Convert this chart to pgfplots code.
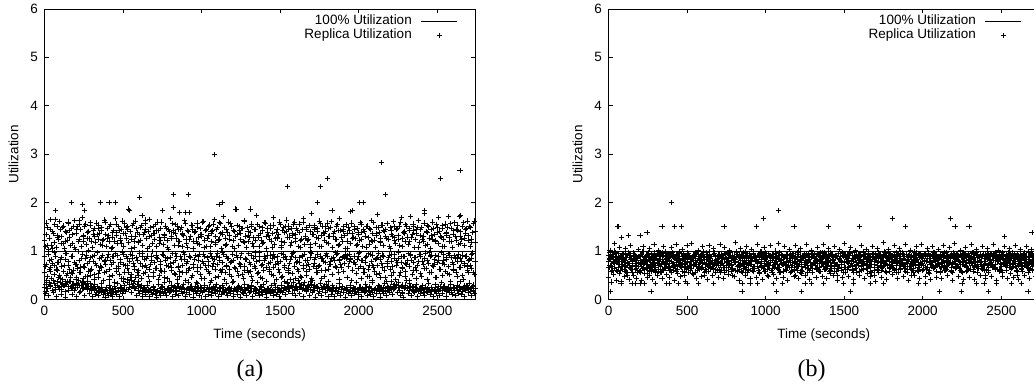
\documentclass[border=0pt]{standalone}
\usepackage{fontspec}
\setmainfont{Liberation Sans}
\newfontfamily\capfont{Liberation Serif}
\usepackage{pgfplots}
\pgfplotsset{compat=1.18}
\usepackage{pgfplotstable}

\pgfplotstableread{
x lo mid hi var
0 0.25 0.55 1.22 0.88
10 0.31 0.72 1.35 0.17
20 0.22 0.48 1.48 1.12
30 0.35 0.81 1.27 0.62
40 0.28 0.66 1.65 0.30
50 0.19 0.74 1.41 1.05
60 0.33 0.52 1.18 0.70
70 0.26 0.90 1.66 0.21
80 0.30 0.61 1.33 1.50
90 0.24 0.77 1.25 0.45
100 0.35 0.44 1.45 0.83
110 0.21 0.69 1.30 0.28
120 0.29 0.58 1.52 1.16
130 0.17 0.83 1.21 0.38
140 0.32 0.49 1.38 0.95
150 0.27 0.71 1.60 0.19
160 0.38 0.62 1.28 1.42
170 0.22 0.88 1.47 0.56
180 0.30 0.54 1.15 0.25
190 0.18 0.76 1.63 1.08
200 0.34 0.41 1.36 0.73
210 0.26 0.65 1.50 0.31
220 0.29 0.80 1.24 1.55
230 0.16 0.57 1.44 0.67
240 0.36 0.93 1.69 0.22
250 0.23 0.68 1.32 1.19
260 0.31 0.47 1.56 0.84
270 0.20 0.74 1.26 0.34
280 0.27 0.59 1.40 1.02
290 0.33 0.86 1.53 0.50
300 0.18 0.63 1.20 0.27
310 0.25 0.78 1.43 1.34
320 0.21 0.52 1.31 0.91
330 0.15 0.70 1.58 0.19
340 0.23 0.45 1.25 1.47
350 0.17 0.84 1.37 0.60
360 0.14 0.66 1.49 0.24
370 0.19 0.91 1.22 1.11
380 0.16 0.55 1.64 0.79
390 0.21 0.73 1.34 0.18
400 0.13 0.86 1.46 1.27
410 0.18 0.62 1.19 0.42
420 0.15 0.80 1.55 0.22
430 0.20 0.49 1.29 1.08
440 0.16 0.76 1.42 0.88
450 0.22 0.95 1.67 0.17
460 0.14 0.58 1.33 1.38
470 0.19 0.69 1.51 0.64
480 0.17 0.83 1.23 0.26
490 0.24 0.44 1.45 1.15
500 0.18 0.72 1.36 0.93
510 0.29 0.57 1.58 0.20
520 0.21 0.88 1.27 1.49
530 0.35 0.64 1.44 0.71
540 0.26 0.79 1.84 0.32
550 0.40 0.51 1.30 1.06
560 0.28 0.92 1.53 0.85
570 0.37 0.68 1.21 0.23
580 0.22 0.45 1.62 1.31
590 0.31 0.81 1.39 0.57
600 0.19 0.60 1.17 0.28
610 0.26 0.75 1.48 1.22
620 0.17 0.89 1.73 0.96
630 0.23 0.53 1.35 0.19
640 0.15 0.70 1.57 1.44
650 0.20 0.84 1.26 0.66
660 0.16 0.47 1.41 0.21
670 0.19 0.63 1.66 1.09
680 0.14 0.90 1.32 0.80
690 0.18 0.56 1.50 0.24
700 0.21 0.77 1.24 1.37
710 0.16 0.65 1.43 0.92
720 0.19 0.85 1.60 0.18
730 0.15 0.50 1.29 1.16
740 0.22 0.72 1.46 0.61
750 0.17 0.94 1.83 0.27
760 0.20 0.59 1.34 1.28
770 0.14 0.80 1.52 0.86
780 0.18 0.43 1.22 0.20
790 0.23 0.69 1.45 1.03
800 0.16 0.87 1.68 0.74
810 0.21 0.61 1.31 0.25
820 0.18 0.76 1.38 1.42
830 0.25 0.52 1.55 0.95
840 0.19 0.89 1.27 0.17
850 0.28 0.66 1.44 1.12
860 0.22 0.47 1.20 0.58
870 0.17 0.82 1.49 0.23
880 0.24 0.70 1.36 1.34
890 0.20 0.93 1.63 0.83
900 0.15 0.57 1.25 0.21
910 0.23 0.78 1.42 1.07
920 0.18 0.64 1.79 0.90
930 0.26 0.86 1.30 0.27
940 0.21 0.49 1.53 1.45
950 0.17 0.73 1.21 0.67
960 0.28 0.91 1.40 0.19
970 0.19 0.58 1.58 1.15
980 0.24 0.81 1.28 0.88
990 0.16 0.67 1.47 0.22
1000 0.22 0.44 1.35 1.30
1010 0.18 0.75 1.61 0.94
1020 0.25 0.88 1.23 0.18
1030 0.20 0.62 1.45 1.09
1040 0.17 0.79 1.32 0.71
1050 0.23 0.54 1.54 0.26
1060 0.15 0.90 1.19 1.40
1070 0.21 0.68 1.42 0.84
1080 0.18 0.83 1.66 0.20
1090 0.26 0.46 1.30 1.13
1100 0.19 0.72 1.48 0.96
1110 0.16 0.87 1.25 0.24
1120 0.22 0.60 1.57 1.36
1130 0.17 0.77 1.38 0.62
1140 0.24 0.94 1.71 0.17
1150 0.20 0.55 1.27 1.11
1160 0.15 0.70 1.44 0.89
1170 0.21 0.85 1.60 0.23
1180 0.18 0.63 1.33 1.25
1190 0.23 0.48 1.52 0.78
1200 0.16 0.80 1.22 0.19
1210 0.22 0.66 1.41 1.06
1220 0.19 0.91 1.86 0.92
1230 0.17 0.58 1.35 0.25
1240 0.24 0.74 1.50 1.43
1250 0.20 0.86 1.24 0.69
1260 0.15 0.52 1.46 0.18
1270 0.21 0.69 1.63 1.17
1280 0.18 0.82 1.31 0.85
1290 0.26 0.61 1.48 0.22
1300 0.19 0.95 1.20 1.32
1310 0.16 0.73 1.39 0.58
1320 0.23 0.47 1.56 0.27
1330 0.17 0.84 1.28 1.10
1340 0.22 0.65 1.44 0.97
1350 0.18 0.78 1.74 0.20
1360 0.14 0.56 1.33 1.28
1370 0.21 0.89 1.51 0.81
1380 0.17 0.70 1.23 0.24
1390 0.15 0.43 1.42 1.15
1400 0.20 0.81 1.59 0.90
1410 0.16 0.66 1.30 0.18
1420 0.22 0.92 1.46 1.38
1430 0.18 0.59 1.25 0.63
1440 0.14 0.76 1.53 0.21
1450 0.19 0.85 1.37 1.08
1460 0.17 0.50 1.69 0.93
1470 0.21 0.72 1.27 0.26
1480 0.15 0.88 1.45 1.29
1490 0.20 0.62 1.34 0.74
1500 0.17 0.79 1.55 0.19
1510 0.23 0.45 1.21 1.12
1520 0.19 0.94 1.48 0.86
1530 0.25 0.67 1.38 0.23
1540 0.21 0.83 1.64 1.40
1550 0.28 0.57 1.52 0.60
1560 0.22 0.74 1.29 0.25
1570 0.30 0.90 1.47 1.18
1580 0.24 0.53 1.33 0.95
1590 0.19 0.69 1.60 0.20
1600 0.27 0.86 1.26 1.34
1610 0.21 0.62 1.43 0.79
1620 0.33 0.77 1.56 0.28
1630 0.25 0.48 1.22 1.07
1640 0.20 0.91 1.45 0.89
1650 0.29 0.65 1.67 0.22
1660 0.23 0.80 1.31 1.26
1670 0.18 0.58 1.49 0.70
1680 0.26 0.73 1.24 0.30
1690 0.21 0.87 1.41 1.13
1700 0.31 0.44 1.78 0.96
1710 0.24 0.68 1.35 0.19
1720 0.19 0.82 1.53 1.44
1730 0.27 0.56 1.28 0.65
1740 0.22 0.93 1.46 0.26
1750 0.17 0.71 1.62 1.09
1760 0.25 0.60 1.32 0.84
1770 0.20 0.84 1.50 0.21
1780 0.28 0.47 1.23 1.37
1790 0.23 0.76 1.40 0.91
1800 0.18 0.89 1.58 0.24
1810 0.26 0.63 1.30 1.16
1820 0.21 0.78 1.48 0.73
1830 0.16 0.52 1.84 0.18
1840 0.24 0.86 1.36 1.30
1850 0.19 0.69 1.25 0.97
1860 0.22 0.94 1.52 0.23
1870 0.17 0.57 1.42 1.11
1880 0.25 0.80 1.68 0.82
1890 0.20 0.66 1.29 0.20
1900 0.15 0.88 1.45 1.41
1910 0.23 0.74 1.33 0.87
1920 0.18 0.84 1.55 0.25
1930 0.21 0.91 1.21 1.06
1940 0.16 0.79 1.43 0.93
1950 0.24 0.85 1.82 0.19
1960 0.19 0.61 1.37 1.27
1970 0.22 0.88 1.50 0.76
1980 0.17 0.72 1.26 0.22
1990 0.20 0.83 1.47 1.14
2000 0.15 0.95 1.34 0.90
2010 0.23 0.68 1.59 0.26
2020 0.18 0.81 1.24 1.39
2030 0.21 0.55 1.44 0.64
2040 0.16 0.76 1.31 0.18
2050 0.24 0.89 1.51 1.08
2060 0.19 0.63 1.28 0.95
2070 0.17 0.47 1.46 0.24
2080 0.22 0.78 1.63 1.22
2090 0.15 0.92 1.36 0.71
2100 0.20 0.59 1.23 0.20
2110 0.18 0.85 1.49 1.33
2120 0.23 0.70 1.75 0.86
2130 0.16 0.53 1.39 0.27
2140 0.21 0.82 1.27 1.17
2150 0.19 0.67 1.54 0.92
2160 0.24 0.90 1.42 0.19
2170 0.17 0.45 1.30 1.45
2180 0.22 0.75 1.57 0.68
2190 0.18 0.87 1.25 0.25
2200 0.26 0.62 1.48 1.05
2210 0.20 0.79 1.35 0.94
2220 0.28 0.56 1.61 0.21
2230 0.23 0.93 1.22 1.28
2240 0.32 0.71 1.44 0.80
2250 0.25 0.84 1.33 0.29
2260 0.19 0.49 1.52 1.12
2270 0.27 0.77 1.70 0.88
2280 0.14 0.64 1.26 0.13
2290 0.22 0.88 1.41 1.36
2300 0.30 0.58 1.55 0.75
2310 0.24 0.81 1.29 0.23
2320 0.19 0.69 1.46 1.19
2330 0.27 0.94 1.72 0.91
2340 0.21 0.52 1.34 0.26
2350 0.17 0.76 1.50 1.42
2360 0.24 0.86 1.24 0.66
2370 0.20 0.61 1.45 0.18
2380 0.16 0.79 1.63 1.07
2390 0.22 0.90 1.32 0.93
2400 0.18 0.48 1.48 0.22
2410 0.15 0.73 1.21 1.31
2420 0.21 0.85 1.77 0.84
2430 0.17 0.64 1.40 0.20
2440 0.23 0.80 1.53 1.14
2450 0.19 0.55 1.27 0.97
2460 0.16 0.92 1.44 0.24
2470 0.21 0.70 1.60 1.25
2480 0.18 0.83 1.35 0.72
2490 0.25 0.46 1.22 0.19
2500 0.20 0.77 1.49 1.39
2510 0.17 0.89 1.70 0.90
2520 0.23 0.62 1.31 0.27
2530 0.19 0.75 1.46 1.10
2540 0.26 0.94 1.25 0.81
2550 0.21 0.58 1.56 0.23
2560 0.17 0.82 1.38 1.33
2570 0.24 0.68 1.72 0.95
2580 0.20 0.51 1.28 0.18
2590 0.15 0.86 1.47 1.20
2600 0.22 0.72 1.34 0.63
2610 0.18 0.91 1.59 0.25
2620 0.25 0.57 1.23 1.44
2630 0.19 0.79 1.42 0.87
2640 0.27 0.66 1.71 0.21
2650 0.21 0.85 1.30 1.15
2660 0.16 0.49 1.51 0.92
2670 0.23 0.74 1.27 0.28
2680 0.18 0.88 1.45 1.36
2690 0.26 0.60 1.62 0.69
2700 0.20 0.81 1.33 0.22
2710 0.17 0.70 1.48 1.09
2720 0.24 0.93 1.25 0.85
2730 0.19 0.56 1.57 0.30
2740 0.22 0.78 1.40 1.18
}\dataA

\pgfplotstableread{
x lo mid hi
5 0.12 0.68 1.10
15 0.40 0.35 1.58
25 0.08 0.93 1.03
35 0.27 0.59 1.45
45 0.44 0.82 1.12
55 0.15 0.40 1.37
65 0.33 0.97 1.55
75 0.06 0.63 1.08
85 0.38 0.76 1.29
95 0.21 0.50 1.61
105 0.10 0.87 1.16
115 0.42 0.33 1.49
125 0.29 0.71 1.06
135 0.05 0.96 1.40
145 0.36 0.54 1.23
155 0.18 0.79 1.57
165 0.45 0.38 1.11
175 0.11 0.90 1.34
185 0.32 0.61 1.50
195 0.24 0.73 1.04
205 0.07 0.46 1.44
215 0.39 0.99 1.19
225 0.14 0.56 1.63
235 0.30 0.84 1.09
245 0.43 0.37 1.31
255 0.09 0.67 1.52
265 0.26 0.92 1.14
275 0.37 0.48 1.39
285 0.12 0.78 1.26
295 0.22 0.60 1.59
305 0.06 0.89 1.07
315 0.31 0.42 1.47
325 0.10 0.75 1.18
335 0.27 0.97 1.35
345 0.08 0.53 1.54
355 0.20 0.69 1.13
365 0.34 0.86 1.42
375 0.11 0.39 1.24
385 0.05 0.81 1.60
395 0.25 0.58 1.10
405 0.09 0.94 1.33
415 0.30 0.47 1.51
425 0.12 0.72 1.05
435 0.07 0.88 1.38
445 0.28 0.36 1.21
455 0.10 0.65 1.56
465 0.33 0.91 1.15
475 0.06 0.52 1.43
485 0.23 0.77 1.27
495 0.13 0.98 1.62
505 0.37 0.44 1.09
515 0.16 0.70 1.36
525 0.42 0.85 1.50
535 0.20 0.57 1.17
545 0.45 0.93 1.41
555 0.14 0.39 1.25
565 0.33 0.74 1.58
575 0.25 0.62 1.08
585 0.09 0.87 1.46
595 0.38 0.50 1.20
605 0.12 0.96 1.34
615 0.29 0.43 1.53
625 0.07 0.68 1.12
635 0.24 0.82 1.39
645 0.11 0.55 1.64
655 0.30 0.90 1.06
665 0.06 0.37 1.30
675 0.21 0.73 1.49
685 0.10 0.99 1.16
695 0.27 0.48 1.37
705 0.13 0.64 1.55
715 0.05 0.86 1.10
725 0.32 0.41 1.43
735 0.09 0.78 1.22
745 0.26 0.59 1.60
755 0.12 0.92 1.14
765 0.35 0.45 1.33
775 0.08 0.71 1.47
785 0.22 0.84 1.07
795 0.14 0.38 1.40
805 0.30 0.66 1.26
815 0.06 0.95 1.57
825 0.27 0.53 1.11
835 0.11 0.80 1.36
845 0.34 0.42 1.52
855 0.09 0.69 1.19
865 0.25 0.88 1.44
875 0.13 0.56 1.09
885 0.31 0.97 1.32
895 0.07 0.40 1.58
905 0.20 0.75 1.15
915 0.36 0.61 1.41
925 0.10 0.89 1.24
935 0.28 0.46 1.54
945 0.05 0.72 1.06
955 0.23 0.83 1.38
965 0.12 0.35 1.21
975 0.33 0.67 1.49
985 0.08 0.94 1.13
995 0.26 0.51 1.35
1005 0.14 0.79 1.60
1015 0.30 0.43 1.08
1025 0.07 0.70 1.42
1035 0.24 0.86 1.27
1045 0.11 0.58 1.51
1055 0.35 0.96 1.10
1065 0.09 0.39 1.37
1075 0.27 0.74 1.56
1085 0.13 0.63 1.17
1095 0.31 0.90 1.45
1105 0.06 0.47 1.23
1115 0.22 0.81 1.59
1125 0.10 0.55 1.05
1135 0.29 0.98 1.34
1145 0.14 0.41 1.48
1155 0.33 0.68 1.14
1165 0.08 0.85 1.39
1175 0.25 0.52 1.25
1185 0.12 0.76 1.57
1195 0.36 0.93 1.09
1205 0.07 0.37 1.43
1215 0.21 0.64 1.30
1225 0.11 0.87 1.53
1235 0.28 0.49 1.12
1245 0.05 0.72 1.36
1255 0.24 0.95 1.46
1265 0.13 0.44 1.19
1275 0.32 0.61 1.61
1285 0.09 0.83 1.07
1295 0.26 0.56 1.40
1305 0.14 0.77 1.28
1315 0.30 0.91 1.50
1325 0.06 0.40 1.15
1335 0.23 0.69 1.44
1345 0.12 0.88 1.22
1355 0.35 0.53 1.55
1365 0.08 0.97 1.10
1375 0.27 0.46 1.37
1385 0.10 0.73 1.48
1395 0.31 0.60 1.18
1405 0.15 0.84 1.58
1415 0.05 0.38 1.06
1425 0.22 0.75 1.33
1435 0.13 0.92 1.47
1445 0.29 0.51 1.21
1455 0.09 0.66 1.54
1465 0.34 0.86 1.13
1475 0.11 0.42 1.39
1485 0.25 0.79 1.26
1495 0.07 0.57 1.60
1505 0.30 0.95 1.08
1515 0.14 0.48 1.42
1525 0.38 0.71 1.17
1535 0.10 0.89 1.51
1545 0.33 0.36 1.29
1555 0.16 0.65 1.45
1565 0.42 0.82 1.11
1575 0.12 0.54 1.36
1585 0.36 0.97 1.56
1595 0.08 0.43 1.20
1605 0.28 0.76 1.47
1615 0.40 0.59 1.09
1625 0.13 0.87 1.38
1635 0.31 0.45 1.25
1645 0.06 0.70 1.59
1655 0.35 0.93 1.14
1665 0.17 0.50 1.44
1675 0.27 0.81 1.22
1685 0.09 0.63 1.53
1695 0.38 0.98 1.07
1705 0.14 0.40 1.35
1715 0.30 0.74 1.49
1725 0.05 0.86 1.16
1735 0.24 0.55 1.41
1745 0.12 0.68 1.27
1755 0.34 0.90 1.57
1765 0.08 0.44 1.10
1775 0.26 0.78 1.38
1785 0.15 0.61 1.52
1795 0.31 0.95 1.18
1805 0.07 0.37 1.46
1815 0.22 0.72 1.31
1825 0.11 0.85 1.61
1835 0.29 0.52 1.08
1845 0.06 0.80 1.40
1855 0.25 0.66 1.24
1865 0.13 0.96 1.55
1875 0.33 0.41 1.13
1885 0.09 0.73 1.43
1895 0.27 0.87 1.20
1905 0.14 0.58 1.50
1915 0.05 0.93 1.06
1925 0.21 0.46 1.37
1935 0.12 0.69 1.48
1945 0.30 0.82 1.15
1955 0.08 0.39 1.58
1965 0.24 0.77 1.28
1975 0.13 0.90 1.45
1985 0.35 0.54 1.11
1995 0.10 0.64 1.39
2005 0.26 0.97 1.23
2015 0.06 0.43 1.56
2025 0.23 0.80 1.09
2035 0.14 0.57 1.41
2045 0.32 0.86 1.30
2055 0.09 0.48 1.52
2065 0.27 0.71 1.14
2075 0.11 0.94 1.44
2085 0.36 0.40 1.19
2095 0.07 0.67 1.59
2105 0.22 0.83 1.07
2115 0.13 0.52 1.36
2125 0.29 0.96 1.48
2135 0.05 0.45 1.21
2145 0.25 0.74 1.54
2155 0.12 0.88 1.12
2165 0.34 0.60 1.40
2175 0.09 0.37 1.26
2185 0.28 0.79 1.57
2195 0.15 0.92 1.10
2205 0.38 0.50 1.43
2215 0.11 0.68 1.31
2225 0.31 0.85 1.50
2235 0.41 0.42 1.16
2245 0.14 0.76 1.46
2255 0.36 0.98 1.24
2265 0.08 0.55 1.60
2275 0.30 0.66 1.09
2285 0.04 0.89 1.38
2295 0.25 0.47 1.20
2305 0.39 0.72 1.52
2315 0.12 0.95 1.14
2325 0.33 0.39 1.42
2335 0.09 0.81 1.29
2345 0.27 0.61 1.56
2355 0.14 0.87 1.08
2365 0.31 0.44 1.37
2375 0.06 0.70 1.49
2385 0.23 0.93 1.18
2395 0.12 0.53 1.44
2405 0.29 0.78 1.25
2415 0.08 0.64 1.58
2425 0.26 0.96 1.12
2435 0.14 0.41 1.39
2445 0.34 0.75 1.51
2455 0.10 0.88 1.06
2465 0.24 0.57 1.33
2475 0.07 0.69 1.47
2485 0.31 0.91 1.21
2495 0.13 0.45 1.55
2505 0.27 0.80 1.15
2515 0.09 0.63 1.41
2525 0.35 0.97 1.28
2535 0.12 0.49 1.53
2545 0.28 0.73 1.10
2555 0.06 0.86 1.36
2565 0.23 0.54 1.49
2575 0.14 0.92 1.19
2585 0.32 0.38 1.57
2595 0.10 0.77 1.07
2605 0.26 0.60 1.43
2615 0.08 0.84 1.30
2625 0.30 0.47 1.54
2635 0.13 0.94 1.14
2645 0.37 0.67 1.40
2655 0.11 0.79 1.24
2665 0.25 0.42 1.59
2675 0.07 0.71 1.11
2685 0.29 0.90 1.46
2695 0.14 0.56 1.22
2705 0.34 0.83 1.50
2715 0.09 0.65 1.17
2725 0.27 0.96 1.38
2735 0.12 0.51 1.62
}\dataAA

\pgfplotstableread{
x a b c d
0 0.78 0.92 0.66 0.45
10 0.85 0.71 0.97 1.02
20 0.69 0.88 0.58 0.36
30 0.93 0.76 0.82 0.52
40 0.74 0.64 1.00 1.15
50 0.88 0.81 0.61 0.40
60 0.67 0.95 0.78 0.85
70 0.82 0.73 0.54 1.08
80 0.90 0.68 0.86 0.37
90 0.72 0.84 0.95 0.62
100 0.80 0.63 0.70 0.48
110 0.94 0.87 0.59 1.05
120 0.71 0.77 0.91 0.55
130 0.86 0.66 0.75 0.42
140 0.65 0.92 0.83 1.12
150 0.79 0.74 0.57 0.68
160 0.91 0.83 0.96 0.50
170 0.70 0.62 0.80 0.91
180 0.84 0.89 0.64 0.44
190 0.76 0.69 0.88 1.03
200 0.89 0.80 0.55 0.60
210 0.68 0.93 0.74 0.39
220 0.83 0.72 0.99 1.10
230 0.75 0.86 0.62 0.53
240 0.92 0.65 0.79 0.87
250 0.66 0.78 0.93 0.46
260 0.81 0.90 0.60 1.06
270 0.73 0.70 0.85 0.58
280 0.87 0.83 0.68 0.41
290 0.70 0.96 0.77 1.14
300 0.85 0.67 0.56 0.63
310 0.77 0.81 0.94 0.49
320 0.94 0.74 0.71 1.01
330 0.68 0.88 0.83 0.57
340 0.82 0.63 0.97 0.43
350 0.79 0.91 0.60 1.09
360 0.90 0.76 0.78 0.66
370 0.72 0.85 0.89 0.52
380 0.86 0.69 0.64 0.95
390 0.75 0.94 0.81 0.45
400 0.91 0.79 0.55 1.07
410 0.69 0.66 0.92 0.61
420 0.84 0.87 0.73 0.40
430 0.77 0.72 0.86 1.13
440 0.93 0.82 0.63 0.54
450 0.71 0.95 0.98 0.88
460 0.80 0.68 0.76 0.47
470 0.88 0.84 0.58 1.04
480 0.73 0.75 0.90 0.59
490 0.85 0.90 0.69 0.38
500 0.67 0.78 0.82 1.11
510 0.92 0.64 0.95 0.56
520 0.78 0.86 0.61 0.70
530 0.83 0.73 0.79 1.16
540 0.70 0.92 0.87 0.51
550 0.89 0.80 0.57 0.93
560 0.76 0.69 0.96 0.44
570 0.94 0.85 0.72 1.02
580 0.68 0.77 0.84 0.62
590 0.81 0.91 0.65 0.48
600 0.74 0.66 0.91 1.09
610 0.87 0.83 0.77 0.57
620 0.72 0.94 0.59 0.97
630 0.90 0.71 0.86 0.42
640 0.79 0.80 0.99 1.12
650 0.84 0.88 0.67 0.64
660 0.69 0.75 0.80 0.50
670 0.93 0.63 0.93 1.05
680 0.77 0.89 0.62 0.55
690 0.82 0.79 0.75 0.89
700 0.71 0.92 0.88 0.46
710 0.88 0.70 0.56 1.14
720 0.75 0.84 0.94 0.60
730 0.91 0.67 0.71 0.43
740 0.66 0.95 0.83 1.08
750 0.85 0.76 0.61 0.66
760 0.79 0.87 0.97 0.52
770 0.92 0.73 0.74 1.01
780 0.70 0.81 0.85 0.58
790 0.86 0.65 0.63 0.92
800 0.77 0.90 0.90 0.47
810 0.83 0.78 0.78 1.17
820 0.68 0.93 0.58 0.61
830 0.94 0.69 0.92 0.40
840 0.80 0.85 0.70 1.06
850 0.73 0.74 0.84 0.56
860 0.89 0.88 0.65 0.96
870 0.76 0.62 0.98 0.49
880 0.84 0.91 0.76 1.10
890 0.71 0.80 0.60 0.63
900 0.90 0.72 0.87 0.44
910 0.78 0.86 0.73 1.03
920 0.65 0.94 0.95 0.59
930 0.87 0.68 0.64 0.90
940 0.81 0.83 0.81 0.45
950 0.74 0.77 0.91 1.13
960 0.93 0.89 0.57 0.54
970 0.69 0.66 0.79 0.98
980 0.86 0.92 0.86 0.41
990 0.79 0.75 0.69 1.07
1000 0.83 0.84 0.96 0.58
1010 0.72 0.70 0.62 0.87
1020 0.91 0.95 0.77 0.48
1030 0.76 0.81 0.89 1.12
1040 0.88 0.64 0.56 0.65
1050 0.70 0.87 0.93 0.52
1060 0.85 0.76 0.72 1.00
1070 0.78 0.90 0.84 0.43
1080 0.92 0.67 0.63 1.15
1090 0.67 0.82 0.97 0.57
1100 0.82 0.93 0.75 0.92
1110 0.75 0.73 0.59 0.46
1120 0.89 0.86 0.88 1.09
1130 0.73 0.79 0.70 0.61
1140 0.84 0.68 0.94 0.39
1150 0.80 0.91 0.66 1.04
1160 0.94 0.77 0.80 0.55
1170 0.71 0.85 0.92 0.95
1180 0.87 0.63 0.61 0.47
1190 0.77 0.88 0.85 1.11
1200 0.83 0.74 0.73 0.60
1210 0.68 0.94 0.98 0.44
1220 0.90 0.80 0.57 1.06
1230 0.76 0.69 0.82 0.53
1240 0.85 0.87 0.90 0.91
1250 0.72 0.76 0.67 0.50
1260 0.93 0.92 0.78 1.14
1270 0.79 0.65 0.95 0.64
1280 0.86 0.83 0.60 0.42
1290 0.70 0.90 0.86 1.02
1300 0.88 0.72 0.71 0.56
1310 0.75 0.85 0.93 0.88
1320 0.81 0.78 0.64 0.45
1330 0.67 0.95 0.80 1.08
1340 0.92 0.67 0.89 0.59
1350 0.78 0.82 0.58 0.97
1360 0.84 0.74 0.96 0.48
1370 0.73 0.89 0.74 1.13
1380 0.90 0.79 0.62 0.62
1390 0.77 0.64 0.87 0.43
1400 0.85 0.93 0.77 1.05
1410 0.69 0.81 0.94 0.54
1420 0.94 0.70 0.65 0.92
1430 0.80 0.87 0.83 0.49
1440 0.74 0.76 0.59 1.10
1450 0.88 0.91 0.91 0.58
1460 0.71 0.68 0.72 0.40
1470 0.83 0.84 0.85 1.03
1480 0.79 0.73 0.61 0.66
1490 0.91 0.95 0.97 0.45
1500 0.66 0.78 0.76 1.15
1510 0.86 0.66 0.88 0.55
1520 0.76 0.89 0.63 0.90
1530 0.93 0.80 0.79 0.47
1540 0.70 0.71 0.95 1.07
1550 0.84 0.92 0.69 0.61
1560 0.78 0.83 0.57 0.41
1570 0.89 0.65 0.84 1.01
1580 0.73 0.88 0.92 0.57
1590 0.87 0.75 0.70 0.94
1600 0.81 0.94 0.86 0.50
1610 0.68 0.69 0.60 1.12
1620 0.92 0.82 0.98 0.63
1630 0.75 0.90 0.75 0.44
1640 0.85 0.72 0.64 1.04
1650 0.71 0.86 0.89 0.53
1660 0.90 0.77 0.81 0.89
1670 0.79 0.67 0.58 0.48
1680 0.83 0.93 0.93 1.09
1690 0.72 0.79 0.73 0.60
1700 0.94 0.85 0.87 0.38
1710 0.77 0.70 0.62 1.06
1720 0.86 0.91 0.96 0.56
1730 0.69 0.76 0.78 0.93
1740 0.88 0.84 0.67 0.46
1750 0.80 0.68 0.90 1.18
1760 0.74 0.89 0.74 0.59
1770 0.91 0.78 0.56 0.42
1780 0.82 0.95 0.85 1.03
1790 0.67 0.73 0.92 0.64
1800 0.87 0.82 0.69 0.91
1810 0.76 0.66 0.83 0.51
1820 0.93 0.87 0.61 1.11
1830 0.70 0.80 0.97 0.55
1840 0.85 0.92 0.77 0.43
1850 0.78 0.71 0.88 1.05
1860 0.90 0.85 0.65 0.62
1870 0.73 0.77 0.80 0.96
1880 0.84 0.94 0.94 0.47
1890 0.68 0.69 0.59 1.13
1900 0.89 0.83 0.75 0.57
1910 0.79 0.90 0.86 0.40
1920 0.86 0.74 0.68 1.02
1930 0.72 0.88 0.91 0.63
1940 0.92 0.65 0.57 0.88
1950 0.77 0.81 0.82 0.49
1960 0.83 0.93 0.96 1.09
1970 0.70 0.76 0.72 0.58
1980 0.94 0.86 0.63 0.44
1990 0.75 0.70 0.87 1.14
2000 0.88 0.89 0.79 0.60
2010 0.81 0.78 0.93 0.93
2020 0.67 0.95 0.66 0.48
2030 0.90 0.67 0.84 1.06
2040 0.76 0.84 0.60 0.54
2050 0.85 0.72 0.89 0.41
2060 0.71 0.91 0.76 1.10
2070 0.93 0.80 0.97 0.65
2080 0.79 0.68 0.70 0.90
2090 0.84 0.87 0.58 0.46
2100 0.73 0.75 0.85 1.04
2110 0.89 0.93 0.92 0.56
2120 0.77 0.82 0.67 0.43
2130 0.91 0.66 0.81 1.12
2140 0.69 0.90 0.95 0.61
2150 0.86 0.79 0.62 0.97
2160 0.80 0.71 0.77 0.50
2170 0.75 0.88 0.88 1.07
2180 0.92 0.94 0.73 0.58
2190 0.72 0.77 0.56 0.39
2200 0.87 0.85 0.94 1.15
2210 0.78 0.69 0.83 0.64
2220 0.83 0.92 0.69 0.92
2230 0.68 0.80 0.90 0.47
2240 0.94 0.73 0.61 1.01
2250 0.76 0.86 0.78 0.55
2260 0.85 0.78 0.96 0.42
2270 0.71 0.95 0.71 1.08
2280 0.90 0.67 0.86 0.59
2290 0.80 0.83 0.64 0.95
2300 0.74 0.90 0.91 0.45
2310 0.88 0.74 0.76 1.13
2320 0.82 0.87 0.59 0.62
2330 0.69 0.79 0.87 0.41
2340 0.93 0.68 0.98 1.03
2350 0.77 0.92 0.68 0.57
2360 0.86 0.81 0.80 0.89
2370 0.72 0.76 0.93 0.50
2380 0.91 0.89 0.63 1.10
2390 0.79 0.70 0.84 0.60
2400 0.84 0.94 0.74 0.44
2410 0.70 0.83 0.95 1.05
2420 0.89 0.66 0.57 0.56
2430 0.75 0.88 0.82 0.93
2440 0.94 0.77 0.70 0.48
2450 0.81 0.91 0.89 1.14
2460 0.67 0.72 0.65 0.63
2470 0.87 0.85 0.92 0.40
2480 0.78 0.80 0.78 1.02
2490 0.83 0.93 0.61 0.58
2500 0.73 0.69 0.86 0.91
2510 0.90 0.84 0.97 0.47
2520 0.76 0.75 0.73 1.09
2530 0.85 0.90 0.60 0.61
2540 0.71 0.78 0.88 0.43
2550 0.92 0.67 0.80 1.06
2560 0.80 0.86 0.94 0.54
2570 0.74 0.94 0.66 0.96
2580 0.88 0.73 0.85 0.46
2590 0.69 0.82 0.75 1.12
2600 0.86 0.91 0.58 0.59
2610 0.79 0.70 0.90 0.41
2620 0.93 0.87 0.77 1.04
2630 0.75 0.76 0.64 0.62
2640 0.84 0.95 0.93 0.90
2650 0.70 0.80 0.82 0.49
2660 0.89 0.68 0.71 1.10
2670 0.78 0.89 0.87 0.57
2680 0.83 0.74 0.60 0.44
2690 0.72 0.92 0.96 1.03
2700 0.91 0.81 0.76 0.60
2710 0.77 0.71 0.85 0.92
2720 0.86 0.88 0.68 0.48
2730 0.74 0.79 0.91 1.07
2740 0.90 0.86 0.79 0.55
}\dataB

\pgfplotstableread{
x e f
5 0.83 0.66
15 0.71 0.94
25 0.90 0.61
35 0.64 0.79
45 0.97 0.87
55 0.76 0.58
65 0.86 0.73
75 0.60 0.91
85 0.79 0.68
95 0.93 0.84
105 0.68 0.77
115 0.87 0.55
125 0.74 0.96
135 0.95 0.70
145 0.62 0.85
155 0.81 0.63
165 0.89 0.92
175 0.70 0.75
185 0.84 0.57
195 0.58 0.88
205 0.92 0.72
215 0.77 0.99
225 0.66 0.64
235 0.88 0.81
245 0.73 0.53
255 0.96 0.86
265 0.80 0.69
275 0.63 0.93
285 0.91 0.76
295 0.75 0.60
305 0.85 0.89
315 0.59 0.71
325 0.94 0.83
335 0.72 0.56
345 0.82 0.95
355 0.67 0.74
365 0.98 0.65
375 0.78 0.90
385 0.61 0.79
395 0.89 0.62
405 0.74 0.97
415 0.86 0.70
425 0.65 0.84
435 0.93 0.59
445 0.79 0.88
455 0.70 0.73
465 0.95 0.66
475 0.83 0.92
485 0.57 0.78
495 0.88 0.63
505 0.76 0.96
515 0.91 0.71
525 0.64 0.85
535 0.84 0.54
545 0.72 0.89
555 0.97 0.76
565 0.80 0.61
575 0.67 0.93
585 0.90 0.80
595 0.75 0.67
605 0.86 0.98
615 0.62 0.72
625 0.94 0.86
635 0.78 0.58
645 0.69 0.91
655 0.88 0.77
665 0.73 0.64
675 0.96 0.95
685 0.81 0.70
695 0.60 0.83
705 0.92 0.62
715 0.77 0.88
725 0.85 0.74
735 0.66 0.57
745 0.95 0.93
755 0.79 0.79
765 0.71 0.66
775 0.89 0.97
785 0.63 0.72
795 0.84 0.85
805 0.76 0.60
815 0.98 0.90
825 0.70 0.76
835 0.87 0.63
845 0.58 0.94
855 0.92 0.81
865 0.78 0.69
875 0.66 0.87
885 0.90 0.56
895 0.74 0.95
905 0.85 0.73
915 0.61 0.84
925 0.96 0.65
935 0.80 0.91
945 0.68 0.78
955 0.91 0.60
965 0.75 0.99
975 0.83 0.71
985 0.64 0.86
995 0.94 0.58
1005 0.79 0.92
1015 0.70 0.75
1025 0.88 0.64
1035 0.60 0.89
1045 0.93 0.80
1055 0.77 0.67
1065 0.86 0.96
1075 0.65 0.73
1085 0.97 0.84
1095 0.81 0.55
1105 0.72 0.91
1115 0.89 0.77
1125 0.63 0.62
1135 0.92 0.94
1145 0.76 0.70
1155 0.84 0.85
1165 0.67 0.59
1175 0.95 0.88
1185 0.78 0.74
1195 0.69 0.66
1205 0.90 0.97
1215 0.73 0.79
1225 0.87 0.61
1235 0.59 0.90
1245 0.94 0.72
1255 0.80 0.86
1265 0.71 0.57
1275 0.88 0.93
1285 0.64 0.76
1295 0.96 0.65
1305 0.77 0.89
1315 0.85 0.71
1325 0.62 0.83
1335 0.91 0.60
1345 0.75 0.95
1355 0.83 0.74
1365 0.68 0.87
1375 0.97 0.63
1385 0.79 0.92
1395 0.70 0.78
1405 0.89 0.58
1415 0.61 0.96
1425 0.93 0.81
1435 0.76 0.69
1445 0.86 0.90
1455 0.65 0.73
1465 0.95 0.64
1475 0.80 0.88
1485 0.72 0.77
1495 0.90 0.55
1505 0.63 0.94
1515 0.87 0.82
1525 0.74 0.67
1535 0.98 0.91
1545 0.81 0.75
1555 0.69 0.62
1565 0.92 0.97
1575 0.77 0.70
1585 0.84 0.85
1595 0.58 0.59
1605 0.94 0.89
1615 0.79 0.76
1625 0.71 0.64
1635 0.88 0.93
1645 0.64 0.79
1655 0.96 0.68
1665 0.82 0.87
1675 0.73 0.56
1685 0.90 0.95
1695 0.66 0.72
1705 0.85 0.84
1715 0.78 0.61
1725 0.93 0.90
1735 0.61 0.77
1745 0.87 0.66
1755 0.75 0.98
1765 0.97 0.73
1775 0.70 0.85
1785 0.83 0.58
1795 0.67 0.92
1805 0.91 0.79
1815 0.79 0.65
1825 0.86 0.88
1835 0.62 0.74
1845 0.95 0.57
1855 0.76 0.96
1865 0.72 0.81
1875 0.89 0.69
1885 0.65 0.90
1895 0.94 0.76
1905 0.80 0.63
1915 0.68 0.94
1925 0.87 0.78
1935 0.74 0.60
1945 0.98 0.87
1955 0.82 0.71
1965 0.60 0.83
1975 0.92 0.67
1985 0.77 0.95
1995 0.85 0.75
2005 0.70 0.62
2015 0.90 0.91
2025 0.63 0.79
2035 0.96 0.55
2045 0.79 0.89
2055 0.73 0.73
2065 0.88 0.66
2075 0.66 0.97
2085 0.93 0.82
2095 0.81 0.70
2105 0.69 0.86
2115 0.86 0.59
2125 0.75 0.93
2135 0.97 0.77
2145 0.61 0.64
2155 0.84 0.90
2165 0.78 0.72
2175 0.91 0.85
2185 0.67 0.61
2195 0.89 0.96
2205 0.74 0.74
2215 0.95 0.67
2225 0.80 0.88
2235 0.64 0.79
2245 0.87 0.58
2255 0.72 0.94
2265 0.93 0.81
2275 0.77 0.69
2285 0.60 0.91
2295 0.90 0.76
2305 0.83 0.63
2315 0.70 0.97
2325 0.96 0.84
2335 0.76 0.71
2345 0.86 0.57
2355 0.65 0.89
2365 0.92 0.78
2375 0.79 0.65
2385 0.71 0.93
2395 0.88 0.73
2405 0.62 0.86
2415 0.94 0.60
2425 0.81 0.90
2435 0.73 0.77
2445 0.89 0.68
2455 0.67 0.95
2465 0.97 0.80
2475 0.78 0.62
2485 0.85 0.88
2495 0.63 0.74
2505 0.91 0.56
2515 0.76 0.92
2525 0.70 0.83
2535 0.93 0.70
2545 0.80 0.96
2555 0.66 0.75
2565 0.87 0.64
2575 0.74 0.89
2585 0.95 0.79
2595 0.61 0.61
2605 0.84 0.94
2615 0.78 0.72
2625 0.90 0.85
2635 0.68 0.58
2645 0.96 0.91
2655 0.82 0.76
2665 0.72 0.67
2675 0.89 0.98
2685 0.64 0.79
2695 0.93 0.63
2705 0.77 0.87
2715 0.85 0.73
2725 0.69 0.60
2735 0.92 0.90
}\dataBB

\newcommand{\plotfont}{\fontsize{13.5}{16}\selectfont}

\pgfplotsset{
  util/.style={
    scale only axis, width=430.5pt, height=290.5pt,
    xmin=0, xmax=2740, ymin=0, ymax=6,
    xtick={0,500,1000,1500,2000,2500}, ytick={0,1,2,3,4,5,6},
    tick align=inside, major tick length=4pt,
    axis line style={line width=1pt},
    every tick/.style={black, line width=0.8pt},
    tick label style={font=\plotfont},
    /pgf/number format/assume math mode=true,
    /pgf/number format/1000 sep={},
    xticklabel style={yshift=-3pt},
    yticklabel style={xshift=-3pt},
    label style={font=\plotfont},
    xlabel={Time (seconds)}, ylabel={Utilization},
    xlabel style={at={(axis description cs:0.5,-0.122)}, anchor=center},
    ylabel style={at={(axis description cs:-0.072,0.5)}, anchor=center},
    legend plot pos=right, legend cell align=right,
    legend style={draw=none, fill=none, font=\plotfont,
      at={(axis description cs:0.9605,0.983)}, anchor=north east,
      inner sep=0pt, row sep=0pt, column sep=9pt,
      nodes={inner sep=0pt, text height=10pt, text depth=4pt}},
    clip=false,
    pts/.style={only marks, mark=+, mark size=2.6pt, black, line width=0.8pt},
  },
  lineleg/.style={legend image code/.code={\draw[line width=1pt] (0pt,0pt) -- (36pt,0pt);}},
  markleg/.style={legend image code/.code={\draw[black, line width=0.8pt] plot[mark=+, mark size=2.6pt] coordinates {(18pt,0pt)};}},
}

\begin{document}
\begin{tikzpicture}
\begin{axis}[util, at={(44.5pt,86.5pt)}, anchor=south west]
  \addplot[black, line width=1pt, lineleg] coordinates {(0,1) (2740,1)};
  \addlegendentry{100\% Utilization}
  \addplot[pts, markleg] table[x=x, y=lo] {\dataA};
  \addlegendentry{Replica Utilization}
  \addplot[pts, forget plot] table[x=x, y=mid] {\dataA};
  \addplot[pts, forget plot] table[x=x, y=hi] {\dataA};
  \addplot[pts, forget plot] table[x=x, y=var] {\dataA};
  \addplot[pts, forget plot] table[x=x, y=lo] {\dataAA};
  \addplot[pts, forget plot] table[x=x, y=mid] {\dataAA};
  \addplot[pts, forget plot] table[x=x, y=hi] {\dataAA};
  \addplot[pts, forget plot] coordinates {
    (170,2.0)(240,1.97)(355,2.0)(410,2.0)(450,2.0)(605,2.1)(820,2.17)(820,1.9)
    (915,2.17)(1080,3.0)(1110,1.97)(1130,2.0)(1545,2.33)(1735,2.0)(1755,2.33)
    (1800,2.5)(2005,2.0)(2030,2.0)(2145,2.83)(2170,2.17)(2520,2.5)(2645,2.67)
    (535,1.87)(860,1.8)(895,1.8)(1215,1.87)(1310,1.87)(1960,1.83)(2420,1.83)
    (2650,1.73)(70,1.83)(255,1.83)};
\end{axis}
\begin{axis}[util, at={(608.5pt,86.5pt)}, anchor=south west]
  \addplot[black, line width=1pt, lineleg] coordinates {(0,1) (2740,1)};
  \addlegendentry{100\% Utilization}
  \addplot[pts, markleg] table[x=x, y=a] {\dataB};
  \addlegendentry{Replica Utilization}
  \addplot[pts, forget plot] table[x=x, y=b] {\dataB};
  \addplot[pts, forget plot] table[x=x, y=c] {\dataB};
  \addplot[pts, forget plot] table[x=x, y=d] {\dataB};
  \addplot[pts, forget plot] table[x=x, y=e] {\dataBB};
  \addplot[pts, forget plot] table[x=x, y=f] {\dataBB};
  \addplot[pts, forget plot] coordinates {
    (15,0.17)(270,0.17)(850,0.17)(1070,0.17)(1230,0.17)(1540,0.17)(2105,0.17)
    (2245,0.17)(2420,0.17)(2670,0.17)(400,2.0)(1080,1.83)(985,1.67)(1805,1.67)
    (2175,1.67)(55,1.5)(65,1.5)(340,1.5)(420,1.5)(465,1.5)(735,1.5)(940,1.5)
    (1180,1.5)(1400,1.5)(1595,1.5)(1890,1.5)(2205,1.5)(2295,1.5)(85,1.28)
    (125,1.33)(200,1.33)(245,1.38)(2695,1.38)(2520,1.3)
    (80,0.33)(150,0.33)(170,0.33)(200,0.33)(230,0.33)(300,0.33)(370,0.33)
    (390,0.33)(445,0.33)(500,0.33)(575,0.33)(670,0.33)(850,0.33)(900,0.33)
    (950,0.33)(1050,0.33)(1105,0.33)(1250,0.33)(1290,0.33)(1370,0.33)
    (1495,0.33)(1560,0.33)(1670,0.33)(1750,0.33)(1975,0.33)(2020,0.33)
    (2250,0.33)(2340,0.33)(2390,0.33)(2470,0.33)(2565,0.33)(2630,0.33)
    (120,0.5)(260,0.5)(480,0.5)(610,0.5)(790,0.5)(1010,0.5)(1190,0.5)
    (1460,0.5)(1690,0.5)(1930,0.5)(2160,0.5)(2400,0.5)(2600,0.5)};
\end{axis}
\node[font=\capfont\fontsize{24}{28}\selectfont] at (250pt,15pt) {(a)};
\node[font=\capfont\fontsize{24}{28}\selectfont] at (811.7pt,15pt) {(b)};
\pgfresetboundingbox
\useasboundingbox (0pt,0pt) rectangle (1034pt,386pt);
\end{tikzpicture}
\end{document}
